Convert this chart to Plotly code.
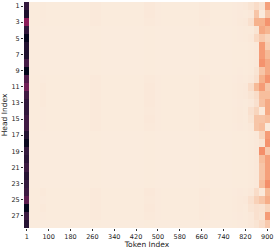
import plotly.graph_objects as go

# Token labels of the 45 columns (first column is the sink token "1")
tokens = ["1"] + [str(t) for t in [40, 60, 80, 100, 120, 140, 160, 180, 200, 220, 240, 260, 280, 300,
                                   320, 340, 360, 380, 400, 420, 440, 460, 480, 500, 520, 540, 560,
                                   580, 600, 620, 640, 660, 680, 700, 720, 740, 760, 780, 800, 820,
                                   840, 860, 880, 900]]
tick_tokens = ["1", "100", "180", "260", "340", "420", "500", "580", "660", "740", "820", "900"]
heads = list(range(1, 29))
head_ticks = list(range(1, 28, 2))

# Attention values (x1000), one list per head: sink col, 39 middle cols, last 5 cols
h01 = [860, 3,3,5,3,3,3,3,3,3,3, 3,8,8,3,3,3,3,3,3,3, 3,9,9,4,3,3,3,3,3,3, 3,8,7,3,3,3,3,4,6, 10,20,40,20,190]
h02 = [930, 3,3,5,3,3,3,3,3,3,3, 3,8,8,3,3,3,3,3,3,3, 3,9,9,4,3,3,3,3,3,3, 3,8,7,3,3,3,3,4,6, 5,10,100,5,100]
h03 = [650, 3,3,4,3,3,3,3,3,3,3, 3,7,7,3,3,3,3,3,3,3, 3,8,8,4,3,3,3,3,3,3, 3,7,6,3,3,3,3,4,8, 10,30,150,150,220]
h04 = [870, 2,2,2,2,2,2,2,2,2,2, 2,3,3,2,2,2,2,2,2,2, 2,3,3,2,2,2,2,2,2,2, 2,3,3,2,2,2,2,3,4, 5,5,20,170,140]
h05 = [990, 2,2,2,2,2,2,2,2,2,2, 2,3,3,2,2,2,2,2,2,2, 2,3,3,2,2,2,2,2,2,2, 2,3,3,2,2,2,2,3,4, 5,10,50,90,60]
h06 = [910, 2,2,2,2,2,2,2,2,2,2, 2,3,3,2,2,2,2,2,2,2, 2,3,3,2,2,2,2,2,2,2, 2,3,3,2,2,2,2,3,3, 3,5,10,200,80]
h07 = [920, 2,2,2,2,2,2,2,2,2,2, 2,3,3,2,2,2,2,2,2,2, 2,3,3,2,2,2,2,2,2,2, 2,3,3,2,2,2,2,3,3, 3,5,10,200,130]
h08 = [820, 2,2,2,2,2,2,2,2,2,2, 2,3,3,2,2,2,2,2,2,2, 2,3,3,2,2,2,2,2,2,2, 2,3,3,2,2,2,2,3,3, 3,5,10,220,170]
h09 = [1000, 2,2,2,2,2,2,2,2,2,2, 2,3,3,2,2,2,2,2,2,2, 2,3,3,2,2,2,2,2,2,2, 2,3,3,2,2,2,2,3,4, 3,5,20,100,170]
h10 = [790, 3,3,4,3,3,3,3,3,3,3, 3,7,7,3,3,3,3,3,3,3, 3,8,8,4,3,3,3,3,3,3, 3,7,6,3,3,3,3,4,6, 5,10,30,150,220]
h11 = [710, 3,3,8,3,3,3,3,3,3,3, 3,8,8,3,3,3,3,3,3,3, 3,9,9,4,3,3,3,3,3,3, 3,8,7,3,3,3,3,5,8, 10,40,130,200,100]
h12 = [830, 3,3,7,3,3,3,3,3,3,3, 3,8,8,3,3,3,3,3,3,3, 3,9,9,4,3,3,3,3,3,3, 3,8,7,3,3,3,3,5,7, 10,20,40,120,120]
h13 = [870, 3,3,8,3,3,3,3,3,3,3, 3,8,8,3,3,3,3,3,3,3, 3,9,9,4,3,3,3,3,3,3, 3,8,7,3,3,3,3,4,6, 5,10,30,110,170]
h14 = [870, 3,3,4,3,3,3,3,3,3,3, 3,8,8,3,3,3,3,3,3,3, 3,8,8,4,3,3,3,3,3,3, 3,8,7,3,3,3,3,5,8, 5,30,60,8,170]
h15 = [830, 3,3,4,3,3,3,3,3,3,3, 3,8,8,3,3,3,3,3,3,3, 3,9,9,4,3,3,3,3,3,3, 3,8,7,3,3,3,3,5,8, 5,20,100,100,120]
h16 = [830, 3,3,4,3,3,3,3,3,3,3, 3,7,7,3,3,3,3,3,3,3, 3,8,8,4,3,3,3,3,3,3, 3,7,6,3,3,3,3,4,6, 5,10,100,120,5]
h17 = [910, 2,2,2,2,2,2,2,2,2,2, 2,3,3,2,2,2,2,2,2,2, 2,3,3,2,2,2,2,2,2,2, 2,3,3,2,2,2,2,3,3, 3,5,10,60,200]
h18 = [980, 2,2,2,2,2,2,2,2,2,2, 2,3,3,2,2,2,2,2,2,2, 2,3,3,2,2,2,2,2,2,2, 2,3,3,2,2,2,2,3,3, 3,5,10,20,220]
h19 = [860, 2,2,2,2,2,2,2,2,2,2, 2,3,3,2,2,2,2,2,2,2, 2,3,3,2,2,2,2,2,2,2, 2,3,3,2,2,2,2,3,3, 3,5,10,230,90]
h20 = [890, 2,2,2,2,2,2,2,2,2,2, 2,3,3,2,2,2,2,2,2,2, 2,3,3,2,2,2,2,2,2,2, 2,3,3,2,2,2,2,3,3, 3,5,10,120,190]
h21 = [840, 2,2,2,2,2,2,2,2,2,2, 2,3,3,2,2,2,2,2,2,2, 2,3,3,2,2,2,2,2,2,2, 2,3,3,2,2,2,2,3,3, 3,5,10,100,190]
h22 = [900, 2,2,2,2,2,2,2,2,2,2, 2,3,3,2,2,2,2,2,2,2, 2,3,3,2,2,2,2,2,2,2, 2,3,3,2,2,2,2,3,3, 3,5,10,100,190]
h23 = [860, 2,2,2,2,2,2,2,2,2,2, 2,3,3,2,2,2,2,2,2,2, 2,3,3,2,2,2,2,2,2,2, 2,3,3,2,2,2,2,3,3, 3,5,10,120,230]
h24 = [840, 3,3,7,3,3,3,3,3,3,3, 3,8,8,3,3,3,3,3,3,3, 3,9,9,4,3,3,3,3,3,3, 3,8,7,3,3,3,3,4,6, 5,10,40,8,130]
h25 = [760, 3,3,4,3,3,3,3,3,3,3, 3,7,7,3,3,3,3,3,3,3, 3,8,8,4,3,3,3,3,3,3, 3,7,6,3,3,3,3,5,8, 10,30,70,100,160]
h26 = [990, 3,3,7,3,3,3,3,3,3,3, 3,8,8,3,3,3,3,3,3,3, 3,9,9,4,3,3,3,3,3,3, 3,8,7,3,3,3,3,5,7, 5,20,30,25,60]
h27 = [840, 3,3,4,3,3,3,3,3,3,3, 3,7,7,3,3,3,3,3,3,3, 3,8,8,4,3,3,3,3,3,3, 3,7,6,3,3,3,3,4,6, 5,10,30,20,200]
h28 = [900, 2,2,2,2,2,2,2,2,2,2, 2,3,3,2,2,2,2,2,2,2, 2,3,3,2,2,2,2,2,2,2, 2,3,3,2,2,2,2,3,4, 5,10,20,40,90]

rows = [h01, h02, h03, h04, h05, h06, h07, h08, h09, h10, h11, h12, h13, h14,
        h15, h16, h17, h18, h19, h20, h21, h22, h23, h24, h25, h26, h27, h28]
for r in rows:
    assert len(r) == len(tokens), len(r)
z = [[v / 1000 for v in r] for r in rows]

rocket_r = [
    [0.0, "#faebdd"], [0.143, "#f6b48f"], [0.286, "#f37651"], [0.429, "#e13342"],
    [0.571, "#ad1759"], [0.714, "#701f57"], [0.857, "#35193e"], [1.0, "#03051a"],
]

col_idx = list(range(len(tokens)))
fig = go.Figure(go.Heatmap(
    z=z, x=col_idx, y=heads, colorscale=rocket_r, showscale=False,
    customdata=[[t for t in tokens] for _ in heads],
    hovertemplate="Head %{y}<br>Token %{customdata}<br>%{z}<extra></extra>",
))

tick_pos = [tokens.index(t) for t in tick_tokens]
font = dict(family="DejaVu Sans", color="#222222")
fig.update_layout(
    width=277, height=249,
    margin=dict(l=24, r=7, t=2, b=21),
    paper_bgcolor="white", plot_bgcolor="white",
    font=font,
    xaxis=dict(
        tickmode="array", tickvals=tick_pos, ticktext=tick_tokens,
        tickangle=0, ticks="outside", ticklen=2, tickwidth=0.8, tickcolor="#333333",
        tickfont=dict(size=6.5, family="DejaVu Sans", color="#222222"),
        title=dict(text="Token Index", font=dict(size=7.5, family="DejaVu Sans", color="#222222"), standoff=2),
        showgrid=False, zeroline=False, showline=False,
        range=[-0.5, len(tokens) - 0.5], automargin=False,
    ),
    yaxis=dict(
        tickmode="array", tickvals=head_ticks, ticktext=[str(h) for h in head_ticks],
        ticks="outside", ticklen=2, tickwidth=0.8, tickcolor="#333333",
        tickfont=dict(size=6.5, family="DejaVu Sans", color="#222222"),
        title=dict(text="Head Index", font=dict(size=7.5, family="DejaVu Sans", color="#222222"), standoff=2),
        showgrid=False, zeroline=False, showline=False,
        range=[28.5, 0.5], automargin=False,
    ),
)
fig.write_html("out.html", config={"displayModeBar": False},
               post_script="document.body.style.margin='0';document.body.style.overflow='hidden';")
